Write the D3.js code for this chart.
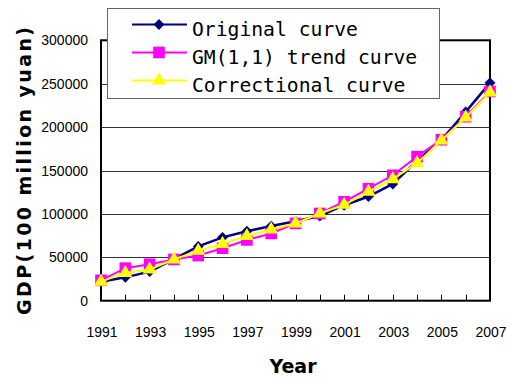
<!DOCTYPE html>
<html>
<head>
<meta charset="utf-8">
<script src="https://cdn.jsdelivr.net/npm/d3@7"></script>
<style>
    body { margin: 0; background: #fff; }
</style>
</head>
<body>
<script>
// years on the category axis
var years = [1991, 1992, 1993, 1994, 1995, 1996, 1997, 1998, 1999, 2000, 2001, 2002, 2003, 2004, 2005, 2006, 2007];
var yearLabels = [1991, 1993, 1995, 1997, 1999, 2001, 2003, 2005, 2007];
var gdpTicks = [0, 50000, 100000, 150000, 200000, 250000, 300000];

// GDP (100 million yuan)
var originalCurve = [21800, 26900, 33500, 48000, 62500, 73000, 80000, 86000, 91500, 97500, 110000, 120000, 134500, 161000, 185000, 217500, 251000];
var gmTrendCurve = [23500, 37500, 42000, 47500, 52000, 60500, 70000, 77500, 89000, 100500, 114000, 129000, 144500, 166000, 185500, 212000, 241000];
var correctionalCurve = [22000, 32000, 36000, 47500, 57500, 65500, 74500, 82000, 89000, 100500, 110500, 125500, 140000, 158500, 184500, 211000, 240000];

var seriesNames = ["Original curve", "GM(1,1) trend curve", "Correctional curve"];

var w = 506;
var h = 379;

var svg = d3.select("body")
    .append("svg")
    .attr("width", w)
    .attr("height", h);

var x = d3.scaleLinear()
    .domain([1991, 2007])
    .range([101, 490]);

var y = d3.scaleLinear()
    .domain([0, 300000])
    .range([300.7, 40.3]);

//gridlines
svg.selectAll("line.grid")
    .data(gdpTicks.slice(1))
    .enter()
    .append("line")
    .attr("class", "grid")
    .attr("x1", x(1991))
    .attr("x2", x(2007))
    .attr("y1", function (d) { return Math.round(y(d)) + 0.5; })
    .attr("y2", function (d) { return Math.round(y(d)) + 0.5; })
    .attr("stroke", "#333")
    .attr("stroke-width", 1);

// plot area box
svg.append("rect")
    .attr("x", x(1991))
    .attr("y", y(300000))
    .attr("width", x(2007) - x(1991))
    .attr("height", y(0) - y(300000))
    .attr("fill", "none")
    .attr("stroke", "#000")
    .attr("stroke-width", 2);

// tick marks on the year axis (pointing inward)
svg.selectAll("line.xtick")
    .data(years)
    .enter()
    .append("line")
    .attr("class", "xtick")
    .attr("x1", function (d) { return Math.round(x(d)) + 0.5; })
    .attr("x2", function (d) { return Math.round(x(d)) + 0.5; })
    .attr("y1", y(0))
    .attr("y2", y(0) - 6)
    .attr("stroke", "#000")
    .attr("stroke-width", 1);

// y tick labels
svg.selectAll("text.ylab")
    .data(gdpTicks)
    .enter()
    .append("text")
    .attr("class", "ylab")
    .attr("x", 88)
    .attr("y", function (d) { return y(d) + 5; })
    .attr("text-anchor", "end")
    .style("font-family", "Liberation Sans, Arial, sans-serif")
    .style("font-size", "14px")
    .text(function (d) { return d; });

// x tick labels
svg.selectAll("text.xlab")
    .data(yearLabels)
    .enter()
    .append("text")
    .attr("class", "xlab")
    .attr("x", function (d) { return x(d) + 1; })
    .attr("y", 337)
    .attr("text-anchor", "middle")
    .style("font-family", "Liberation Sans, Arial, sans-serif")
    .style("font-size", "14px")
    .text(function (d) { return d; });

// axis titles
svg.append("text")
    .attr("x", 293)
    .attr("y", 373)
    .attr("text-anchor", "middle")
    .style("font-family", "DejaVu Sans, sans-serif")
    .style("font-weight", "bold")
    .style("font-size", "19px")
    .text("Year");

svg.append("text")
    .attr("transform", "translate(31,171) rotate(-90)")
    .attr("text-anchor", "middle")
    .attr("textLength", 288)
    .attr("lengthAdjust", "spacing")
    .style("font-family", "DejaVu Sans, sans-serif")
    .style("font-weight", "bold")
    .style("font-size", "19px")
    .text("GDP(100 million yuan)");

// marker shapes
var diamond = d3.symbol().type(d3.symbolDiamond2).size(75);
var square = d3.symbol().type(d3.symbolSquare).size(135);
var triangle = d3.symbol().type(d3.symbolTriangle).size(85);

var series = [
    {name: seriesNames[0], values: originalCurve, color: "#000080", width: 2.5, shape: diamond},
    {name: seriesNames[1], values: gmTrendCurve, color: "#ff00ff", width: 2, shape: square},
    {name: seriesNames[2], values: correctionalCurve, color: "#ffff00", width: 2, shape: triangle}
];

var line = d3.line()
    .x(function (d, i) { return x(years[i]); })
    .y(function (d) { return y(d); });

series.forEach(function (s) {
    svg.append("path")
        .datum(s.values)
        .attr("d", line)
        .attr("fill", "none")
        .attr("stroke", s.color)
        .attr("stroke-width", s.width);

    svg.selectAll("path.m" + s.color.slice(1))
        .data(s.values)
        .enter()
        .append("path")
        .attr("class", "m" + s.color.slice(1))
        .attr("d", s.shape)
        .attr("transform", function (d, i) {
            return "translate(" + x(years[i]) + "," + y(d) + ")";
        })
        .attr("fill", s.color);
});

// legend
svg.append("rect")
    .attr("x", 107.5)
    .attr("y", 8.5)
    .attr("width", 332)
    .attr("height", 90)
    .attr("fill", "#fff")
    .attr("stroke", "#666")
    .attr("stroke-width", 1);

var legendRow = d3.scaleLinear()
    .domain([0, 2])
    .range([24.5, 80.5]);

series.forEach(function (s, i) {
    var ly = legendRow(i);
    svg.append("line")
        .attr("x1", 132)
        .attr("x2", 187)
        .attr("y1", ly)
        .attr("y2", ly)
        .attr("stroke", s.color)
        .attr("stroke-width", 2);
    svg.append("path")
        .attr("d", s.shape)
        .attr("transform", "translate(159," + ly + ")")
        .attr("fill", s.color);
    svg.append("text")
        .attr("x", 192)
        .attr("y", ly + 11)
        .style("font-family", "DejaVu Sans Mono, monospace")
        .style("font-size", "19.7px")
        .text(s.name);
});
</script>
</body>
</html>
